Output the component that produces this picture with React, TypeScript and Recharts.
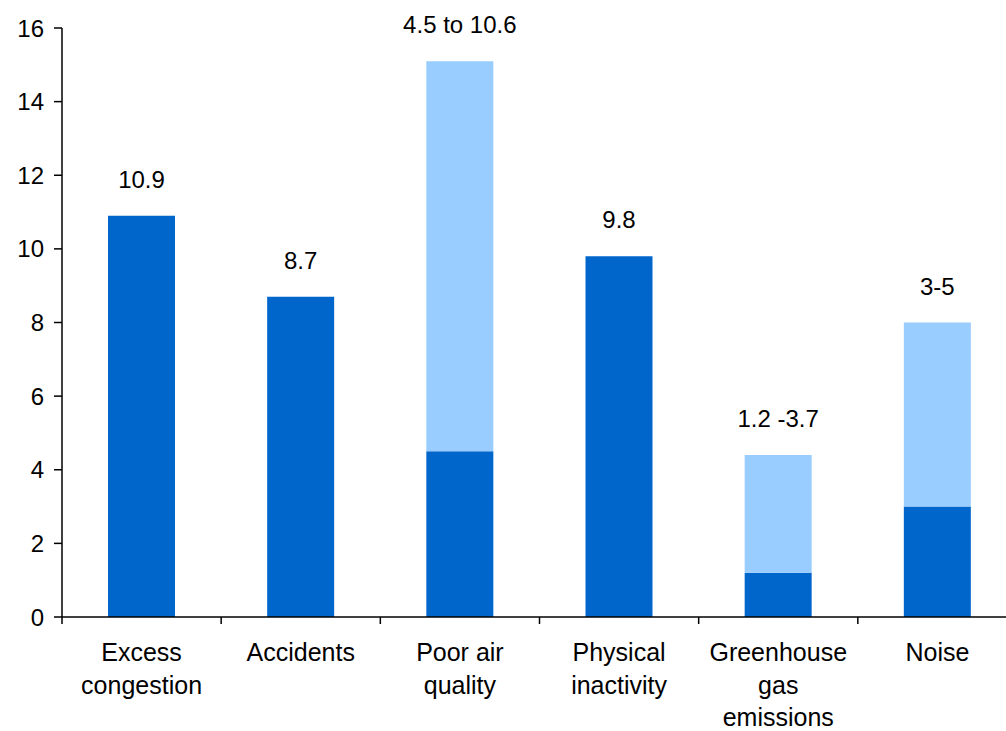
import { BarChart, Bar, XAxis, YAxis, LabelList } from 'recharts';

// categories, line breaks as drawn under the axis
const categories = [
  'Excess\ncongestion',
  'Accidents',
  'Poor air\nquality',
  'Physical\ninactivity',
  'Greenhouse\ngas\nemissions',
  'Noise',
];
// lower estimate (dark) and the extra range on top of it (light)
const lowValues = [10.9, 8.7, 4.5, 9.8, 1.2, 3];
const rangeValues = [0, 0, 10.6, 0, 3.2, 5];
const barLabels = ['10.9', '8.7', '4.5 to 10.6', '9.8', '1.2 -3.7', '3-5'];
const yTicks = [0, 2, 4, 6, 8, 10, 12, 14, 16];

// the label sits on whichever segment is the top of the stack
const data = categories.map((name, i) => ({
  name,
  low: lowValues[i],
  range: rangeValues[i],
  lowLabel: rangeValues[i] ? '' : barLabels[i],
  rangeLabel: rangeValues[i] ? barLabels[i] : '',
}));

const W = 1020;
const H = 731;
const margin = { top: 28, right: 3, left: 0, bottom: 0 };
const Y_AXIS_W = 62;
const X_AXIS_H = 114;
const BAND = (W - margin.left - margin.right - Y_AXIS_W) / categories.length;
const FONT = '"Liberation Sans", Arial, sans-serif';

function CategoryTick(props: any) {
  const { x, y, payload, index } = props;
  const lines = String(payload.value).split('\n');
  return (
    <g>
      <line x1={x - BAND / 2} x2={x - BAND / 2} y1={y} y2={y + 7} stroke="#000" strokeWidth={1.5} />
      {index === categories.length - 1 && (
        <line x1={x + BAND / 2} x2={x + BAND / 2} y1={y} y2={y + 7} stroke="#000" strokeWidth={1.5} />
      )}
      <text textAnchor="middle" fontSize={25} fill="#000" fontFamily={FONT}>
        {lines.map((l, i) => (
          <tspan key={i} x={x} y={y + 44 + i * 32.5}>{l}</tspan>
        ))}
      </text>
    </g>
  );
}

function TopLabel(props: any) {
  const { x, y, width, value } = props;
  if (!value) return null;
  return (
    <text x={x + width / 2} y={y - 28} textAnchor="middle" fontSize={24} fill="#000" fontFamily={FONT}>
      {value}
    </text>
  );
}

export default function App() {
  return (
    <div style={{ position: 'absolute', left: 0, top: 0, width: 1006, height: 731, overflow: 'hidden', background: '#fff' }}>
      <BarChart width={W} height={H} data={data} margin={margin}>
        <XAxis
          dataKey="name"
          interval={0}
          height={X_AXIS_H}
          tickLine={false}
          tickSize={0}
          tickMargin={0}
          axisLine={{ stroke: '#000', strokeWidth: 1.5 }}
          tick={<CategoryTick />}
        />
        <YAxis
          width={Y_AXIS_W}
          domain={[0, 16]}
          ticks={yTicks}
          interval={0}
          tickSize={8}
          tickMargin={10}
          axisLine={{ stroke: '#000', strokeWidth: 1.5 }}
          tickLine={{ stroke: '#000', strokeWidth: 1.5 }}
          tick={{ fill: '#000', fontSize: 24, fontFamily: FONT }}
        />
        <Bar dataKey="low" stackId="a" fill="#0066CC" barSize={67} isAnimationActive={false}>
          <LabelList dataKey="lowLabel" content={<TopLabel />} />
        </Bar>
        <Bar dataKey="range" stackId="a" fill="#99CCFF" barSize={67} isAnimationActive={false}>
          <LabelList dataKey="rangeLabel" content={<TopLabel />} />
        </Bar>
      </BarChart>
    </div>
  );
}
